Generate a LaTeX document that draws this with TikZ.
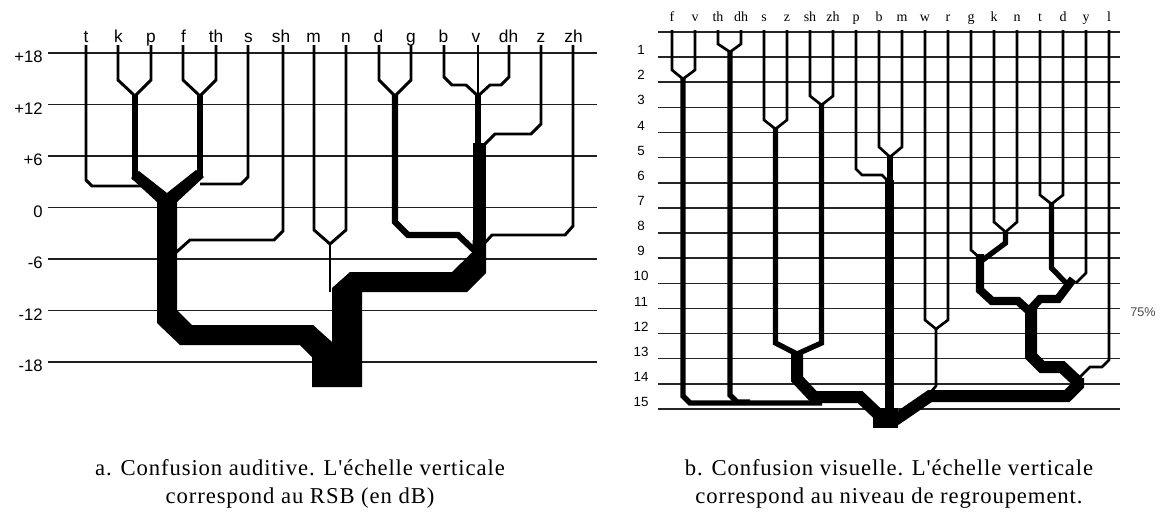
\documentclass[tikz,border=0pt]{standalone}
\usepackage{fontspec}
\setmainfont{Liberation Serif}[Ligatures=TeXOff]
\setsansfont{Liberation Sans}
\newfontfamily\captfont{Liberation Serif}[Ligatures=TeXOff,LetterSpace=4]
\begin{document}
\begin{tikzpicture}[x=0.75pt,y=-0.75pt,line join=miter,line cap=butt]
\tikzset{
  gridA/.style={line width=1.4pt,draw=black!88},
  gridB/.style={line width=1.2pt,draw=black!85},
  thinA/.style={line width=2.2pt,draw=black},
  medA/.style={line width=3.8pt,draw=black},
  med2A/.style={line width=4.6pt,draw=black},
  thinB/.style={line width=2.0pt,draw=black},
  medB/.style={line width=4.0pt,draw=black},
  thickB/.style={line width=6.2pt,draw=black},
  bandB/.style={line width=9pt,draw=black},
  numA/.style={font=\sffamily\fontsize{12.5}{14}\selectfont,inner sep=0pt},
  leafA/.style={font=\sffamily\fontsize{13}{15}\selectfont,inner sep=0pt,anchor=base},
  numB/.style={font=\sffamily\fontsize{10}{11}\selectfont,inner sep=0pt},
  leafB/.style={font=\fontsize{10.5}{12}\selectfont,inner sep=0pt,anchor=base},
  capt/.style={font=\captfont\fontsize{17}{20.5}\selectfont,align=center,inner sep=0pt}
}
\useasboundingbox (0,0) rectangle (1166,511);
\fill[white] (0,0) rectangle (1166,511);

% ---------------- left panel ----------------
\foreach \v [count=\k from 0] in {+18,+12,+6,0,-6,-12,-18} {
  \draw[gridA] (48,{53+51.5*\k}) -- (597,{53+51.5*\k});
  \node[numA,anchor=east] (ya\k) at (43,{57+51.5*\k}) {\v};
}
\foreach \l [count=\i from 0] in {t,k,p,f,th,s,sh,m,n,d,g,b,v,dh,z,zh} {
  \node[leafA] (la\i) at ({86+32.5*\i},42) {\l};
}
% thin leaves
\draw[thinA] (86,45) -- (86,180) -- (92,186) -- (145,186);
\draw[thinA] (118,45) -- (118,80) -- (135,96) -- (151,80) -- (151,45);
\draw[thinA] (183,45) -- (183,80) -- (200,96) -- (216,80) -- (216,45);
\draw[thinA] (248,45) -- (248,177) -- (241,184) -- (200,184);
\draw[thinA] (283,45) -- (283,231) -- (274,240) -- (190,240) -- (172,256);
\draw[thinA] (314,45) -- (314,230) -- (330,244) -- (346,230) -- (346,45);
\draw[thinA] (330,244) -- (330,292);
\draw[thinA] (379,45) -- (379,80) -- (395,96) -- (411,80) -- (411,45);
\draw[thinA] (444,45) -- (444,77) -- (452,85) -- (466,85) -- (478,96);
\draw[thinA] (478,45) -- (478,96);
\draw[thinA] (509,45) -- (509,77) -- (501,85) -- (490,85) -- (478,96);
\draw[thinA] (541,45) -- (541,124) -- (531,134) -- (495,134) -- (482,147);
\draw[thinA] (573,45) -- (573,226) -- (565,235) -- (492,235) -- (482,246);
% medium
\draw[medA] (135,94) -- (135,180);
\draw[medA] (200,94) -- (200,176);
\draw[medA] (478,94) -- (478,150);
\draw[med2A] (395,94) -- (395,222) -- (408,235) -- (458,235) -- (476,252);
\fill (472.5,143) rectangle (486,245);
% Y junction
\fill (131,178) -- (139,171) -- (167,193) -- (196,170) -- (204,177) -- (177,202) -- (157,202) -- cycle;
% big band
\fill (157,200) -- (177,200) -- (177,310) -- (192,325) -- (313,325) -- (332,342)
  -- (332,288) -- (350,272) -- (452,272) -- (472.5,252) -- (472.5,240) -- (486,240)
  -- (486,273) -- (467,292) -- (362,292) -- (362,387) -- (312,387) -- (312,357)
  -- (300,345) -- (180,345) -- (157,323) -- cycle;

% ---------------- right panel ----------------
\foreach \k in {0,...,15} {
  \draw[gridB] (658,{32+25.13*\k}) -- (1120,{32+25.13*\k});
}
\foreach \k in {1,...,15} {
  \node[numB] (yb\k) at (641,{25+25.13*\k}) {\k};
}
\foreach \l [count=\i from 0] in {f,v,th,dh,s,z,sh,zh,p,b,m,w,r,g,k,n,t,d,y,l} {
  \node[leafB] (lb\i) at ({672+23*\i},21) {\l};
}
% thin leaves
\draw[thinB] (672,30) -- (672,70) -- (683,79) -- (695,70) -- (695,30);
\draw[thinB] (718,30) -- (718,44) -- (730,52) -- (741,44) -- (741,30);
\draw[thinB] (764,30) -- (764,120) -- (775.5,129) -- (787,120) -- (787,30);
\draw[thinB] (810,30) -- (810,96) -- (821.5,105) -- (833,96) -- (833,30);
\draw[thinB] (856,30) -- (856,169) -- (862,175) -- (882,175) -- (889,182);
\draw[thinB] (879,30) -- (879,147) -- (890,157) -- (902,147) -- (902,30);
\draw[thinB] (925,30) -- (925,320) -- (936,329) -- (948,320) -- (948,30);
\draw[thinB] (936,329) -- (936,386) -- (930,393);
\draw[thinB] (971,30) -- (971,250) -- (980,258);
\draw[thinB] (994,30) -- (994,222) -- (1005.5,232) -- (1017,222) -- (1017,30);
\draw[thinB] (1040,30) -- (1040,195) -- (1051.5,204) -- (1063,195) -- (1063,30);
\draw[thinB] (1086,30) -- (1086,273) -- (1076,283);
\draw[thinB] (1109,30) -- (1109,360) -- (1102,367) -- (1090,367) -- (1080,377);
% medium
\draw[medB] (683,78) -- (683,396) -- (690,403) -- (822,403);
\draw[medB] (730,51) -- (730,395) -- (737,402) -- (750,402);
\draw[medB] (775.5,128) -- (775.5,343) -- (797,354) -- (821.5,343) -- (821.5,104);
\draw[medB] (890,156) -- (890,185);
\draw[medB] (1005.5,231) -- (1005.5,243) -- (980,262);
\draw[medB] (1051.5,203) -- (1051.5,268) -- (1066,283);
% thick
\draw[thickB] (889.5,180) -- (889.5,412);
\draw[thickB] (980,254) -- (980,290) -- (992,301) -- (1018,301) -- (1029,311);
\draw[thickB] (1073,279) -- (1058,299) -- (1040,299) -- (1029,311);
\draw[bandB] (797,352) -- (797,379) -- (814,397) -- (860,397) -- (880,416);
\draw[bandB] (1031,306) -- (1031,356) -- (1042,367) -- (1062,367) -- (1078,382);
\draw[bandB] (1078,378) -- (1078,385) -- (1067,396) -- (930,396) -- (895,420);
\fill (873,408) rectangle (898,428);

\node[font=\sffamily\fontsize{9.5}{11}\selectfont,text=black!70,inner sep=0pt] (pct) at (1143,312) {75\%};

% captions
\node[capt] (capa) at (300,484) {a. Confusion auditive. L'échelle verticale\\correspond au RSB (en dB)};
\node[capt] (capb) at (889,484) {b. Confusion visuelle. L'échelle verticale\\correspond au niveau de regroupement.};
\end{tikzpicture}
\end{document}
